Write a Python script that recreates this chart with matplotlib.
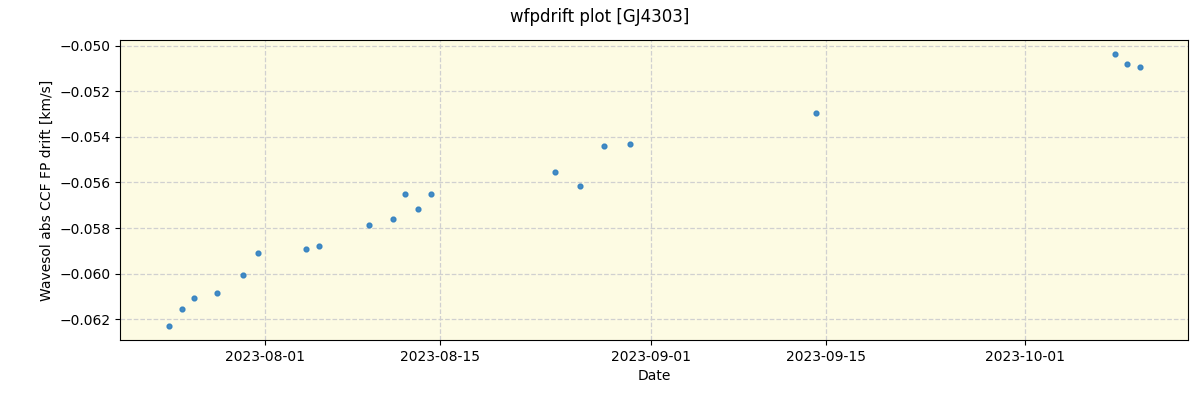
import numpy as np
import pandas as pd
import matplotlib
matplotlib.use("Agg")
import matplotlib.pyplot as plt
import matplotlib.dates as mdates

dates = pd.to_datetime([
    "2023-07-24 07:00", "2023-07-25 07:00", "2023-07-26 07:00", "2023-07-28 03:00",
    "2023-07-30 05:00", "2023-07-31 10:00", "2023-08-04 07:00", "2023-08-05 07:00",
    "2023-08-09 07:00", "2023-08-11 07:00", "2023-08-12 05:00", "2023-08-13 07:00",
    "2023-08-14 07:00", "2023-08-24 07:00", "2023-08-26 07:00", "2023-08-28 05:00",
    "2023-08-30 07:00", "2023-09-14 05:00", "2023-10-08 05:00", "2023-10-09 05:00",
    "2023-10-10 05:00",
])
drift = [
    -0.06231, -0.06156, -0.06108, -0.06086, -0.06007, -0.05910, -0.05892, -0.05879,
    -0.05787, -0.05760, -0.05651, -0.05716, -0.05651, -0.05554, -0.05615, -0.05440,
    -0.05431, -0.05295, -0.05035, -0.05079, -0.05092,
]

fig = plt.figure(figsize=(12, 4), dpi=100)
ax = fig.add_axes([0.1, 0.15, 0.89, 0.75])
ax.set_facecolor("#fdfbe3")

ax.scatter(dates, drift, s=12, color="#2f7fc1", alpha=0.9, zorder=3)

ax.set_xlim(pd.Timestamp("2023-07-20 08:00"), pd.Timestamp("2023-10-14 02:00"))
ax.set_ylim(-0.06292, -0.04974)
ax.xaxis.set_major_locator(mdates.DayLocator(bymonthday=[1, 15]))
ax.xaxis.set_major_formatter(mdates.DateFormatter("%Y-%m-%d"))
ax.set_yticks(np.arange(-0.062, -0.0499, 0.002))
# unicode minus like the default formatter
ax.yaxis.set_major_formatter(
    matplotlib.ticker.FuncFormatter(lambda v, p: ("%.3f" % v).replace("-", "\u2212")))

ax.grid(True, linestyle="--", color="#d0d0d0", linewidth=0.9)
ax.set_axisbelow(True)

ax.set_xlabel("Date")
ax.set_ylabel("Wavesol abs CCF FP drift [km/s]")
fig.suptitle("wfpdrift plot [GJ4303]", y=0.98)

fig.savefig("out.png")
